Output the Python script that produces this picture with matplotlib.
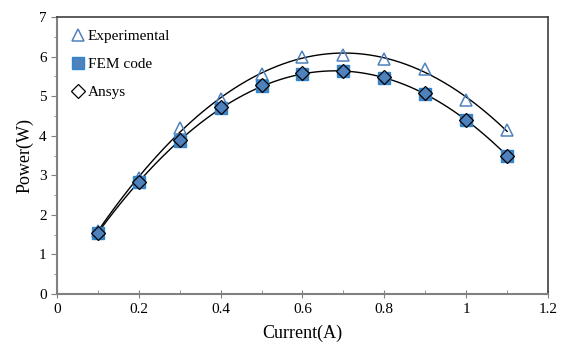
import matplotlib.pyplot as plt
import numpy as np

plt.rcParams['font.family'] = ['Liberation Serif', 'DejaVu Serif']

current = [0.1, 0.2, 0.3, 0.4, 0.5, 0.6, 0.7, 0.8, 0.9, 1.0, 1.1]
experimental = [1.58, 2.92, 4.2, 4.92, 5.55, 6.0, 6.05, 5.95, 5.68, 4.9, 4.14]
fem_code = [1.55, 2.84, 3.86, 4.7, 5.25, 5.57, 5.63, 5.46, 5.05, 4.39, 3.5]
ansys = [1.55, 2.84, 3.88, 4.72, 5.27, 5.58, 5.64, 5.48, 5.07, 4.4, 3.5]

x_ticks = [0, 0.2, 0.4, 0.6, 0.8, 1, 1.2]
x_labels = ['0', '0.2', '0.4', '0.6', '0.8', '1', '1.2']

blue = '#4F81BD'

fig = plt.figure(figsize=(5.63, 3.47), dpi=100)
ax = fig.add_axes([0.1012, 0.1527, 0.8722, 0.7983])

# 2nd order trendlines like excel
xs = np.linspace(0.1, 1.1, 200)
p_exp = np.polyfit(current, experimental, 2)
p_fem = np.polyfit(current, fem_code, 2)
ax.plot(xs, np.polyval(p_exp, xs), color='black', lw=1.0, zorder=2)
ax.plot(xs, np.polyval(p_fem, xs), color='black', lw=1.0, zorder=2)

ax.plot(current, experimental, linestyle='none', marker='^', ms=9,
        mfc='none', mec=blue, mew=1.1, label='Experimental', zorder=3)
ax.plot(current, fem_code, linestyle='none', marker='s', ms=8.5,
        mfc=blue, mec='#2E86D0', mew=1.0, label='FEM code', zorder=3)
ax.plot(current, ansys, linestyle='none', marker='D', ms=7,
        mfc='none', mec='black', mew=0.9, label='Ansys', zorder=4)

ax.set_xlim(0, 1.2)
ax.set_ylim(0, 7)
ax.set_xticks(x_ticks)
ax.set_xticklabels(x_labels)
ax.set_yticks(range(8))
ax.set_xticks(np.arange(0.1, 1.2, 0.2), minor=True)
ax.set_yticks(np.arange(0.5, 7, 1), minor=True)

ax.tick_params(axis='both', labelsize=11, colors='black')
ax.tick_params(axis='x', which='major', direction='inout', length=6, color='#808080')
ax.tick_params(axis='x', which='minor', direction='in', length=3, color='#808080')
ax.tick_params(axis='y', which='major', direction='out', length=4, color='#808080')
ax.tick_params(axis='y', which='minor', direction='out', length=2, color='#808080')

for side in ['left', 'bottom']:
    ax.spines[side].set_color('#808080')
    ax.spines[side].set_linewidth(1.5)
ax.spines['top'].set_color('#404040')
ax.spines['right'].set_color('#404040')
ax.spines['top'].set_linewidth(1.2)
ax.spines['right'].set_linewidth(1.2)

ax.set_xlabel('Current(A)', fontsize=13, labelpad=6)
ax.set_ylabel('Power(W)', fontsize=13, labelpad=4)

ax.legend(loc='upper left', frameon=False, fontsize=11, handletextpad=0.0,
          handlelength=1.2, labelspacing=0.95, borderaxespad=0.4)

fig.savefig('out.png', dpi=100)
